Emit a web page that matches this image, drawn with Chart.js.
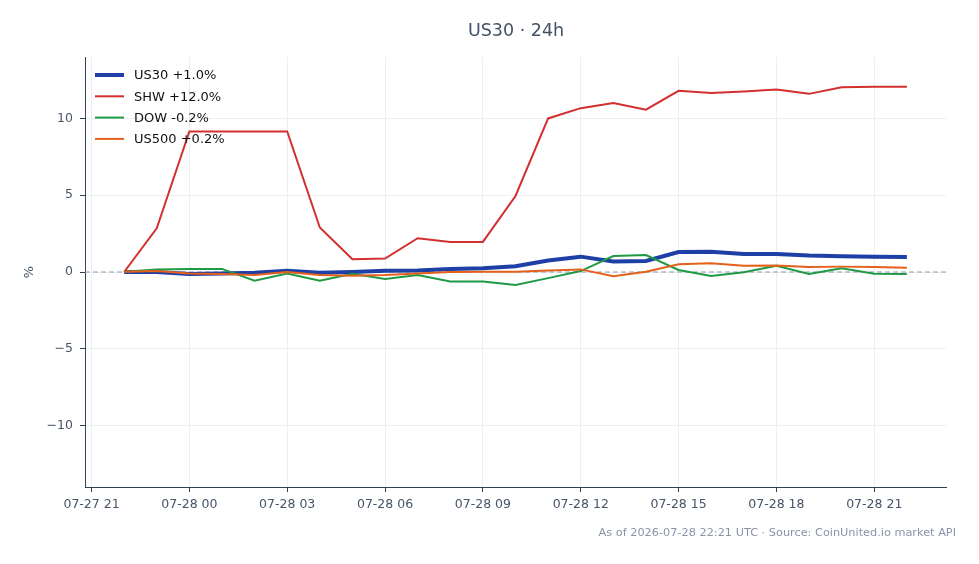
<!DOCTYPE html>
<html>
<head>
<meta charset="utf-8">
<script src="https://cdn.jsdelivr.net/npm/chart.js@4.4.1/dist/chart.umd.min.js"></script>
<style>
  html, body { margin: 0; padding: 0; background: #fff; }
  #wrap { width: 979px; height: 564px; }
</style>
</head>
<body>
<div id="wrap"><canvas id="chart" width="979" height="564"></canvas></div>
<script>
// hourly points, 07-27 22:00 .. 07-28 22:00 (x = hours since 07-27 21:00)
const hours = ['07-27 22','07-27 23','07-28 00','07-28 01','07-28 02','07-28 03','07-28 04','07-28 05','07-28 06',
  '07-28 07','07-28 08','07-28 09','07-28 10','07-28 11','07-28 12','07-28 13','07-28 14','07-28 15','07-28 16',
  '07-28 17','07-28 18','07-28 19','07-28 20','07-28 21','07-28 22'];

const us30 = [0, 0, -0.13, -0.1, -0.05, 0.08, -0.05, 0, 0.08, 0.1, 0.2, 0.25, 0.37, 0.75, 1.0, 0.68, 0.72, 1.3, 1.32, 1.17, 1.17, 1.07, 1.02, 1.0, 0.98];
const shw = [0, 2.85, 9.15, 9.15, 9.15, 9.15, 2.9, 0.83, 0.88, 2.2, 1.96, 1.96, 4.95, 10.0, 10.67, 11.0, 10.57, 11.8, 11.65, 11.75, 11.88, 11.6, 12.03, 12.06, 12.06];
const dow = [0.02, 0.17, 0.2, 0.2, -0.57, -0.1, -0.57, -0.12, -0.45, -0.2, -0.62, -0.62, -0.85, -0.4, 0.06, 1.04, 1.1, 0.13, -0.26, -0.02, 0.4, -0.13, 0.25, -0.12, -0.13];
const us500 = [0.02, 0.07, -0.1, -0.13, -0.2, 0.0, -0.2, -0.25, -0.2, -0.1, 0.0, 0.02, 0.02, 0.1, 0.17, -0.27, 0.02, 0.5, 0.57, 0.4, 0.42, 0.33, 0.35, 0.33, 0.28];

const names = ['US30 +1.0%', 'SHW +12.0%', 'DOW -0.2%', 'US500 +0.2%'];
const colors = ['#1e3fa6', '#d32f2f', '#1f9a44', '#e5601a'];
const widths = [4, 2, 2, 2];

const xTickVals = [0, 3, 6, 9, 12, 15, 18, 21, 24];
const xTickLabels = ['07-27 21','07-28 00','07-28 03','07-28 06','07-28 09','07-28 12','07-28 15','07-28 18','07-28 21'];
const yTickVals = [-10, -5, 0, 5, 10];

const font = "'DejaVu Sans', sans-serif";
const toPoints = arr => arr.map((v, i) => ({x: i + 1, y: v}));

const series = [us30, shw, dow, us500];
const datasets = series.map((s, i) => ({
  label: names[i],
  data: toPoints(s),
  borderColor: colors[i],
  backgroundColor: colors[i],
  borderWidth: widths[i],
  pointRadius: 0,
  tension: 0,
  order: 4 - i   // first series drawn underneath
}));

// zero line, title, % label, legend, footer
const extras = {
  id: 'extras',
  beforeDatasetsDraw(chart){
    const ctx = chart.ctx, a = chart.chartArea;
    const y0 = chart.scales.y.getPixelForValue(0);
    ctx.save();
    ctx.strokeStyle = '#8e9bb0';
    ctx.lineWidth = 1;
    ctx.setLineDash([5, 3]);
    ctx.beginPath();
    ctx.moveTo(a.left, y0);
    ctx.lineTo(a.right, y0);
    ctx.stroke();
    ctx.restore();
  },
  afterDraw(chart){
    const ctx = chart.ctx;
    ctx.save();
    ctx.fillStyle = '#435266';
    ctx.font = '17.5px ' + font;
    ctx.textAlign = 'center';
    ctx.textBaseline = 'middle';
    ctx.fillText('US30 · 24h', 516, 31);

    ctx.font = '13px ' + font;
    ctx.fillStyle = '#475569';
    ctx.translate(30, chart.scales.y.getPixelForValue(0));
    ctx.rotate(-Math.PI / 2);
    ctx.fillText('%', 0, 0);
    ctx.setTransform(1, 0, 0, 1, 0, 0);

    // legend
    ctx.textAlign = 'left';
    ctx.font = '13px ' + font;
    names.forEach((n, i) => {
      const y = 75 + i * 21.3;
      ctx.strokeStyle = colors[i];
      ctx.lineWidth = widths[i];
      ctx.beginPath();
      ctx.moveTo(95, y);
      ctx.lineTo(124, y);
      ctx.stroke();
      ctx.fillStyle = '#111';
      ctx.fillText(n, 134, y + 1);
    });

    ctx.textAlign = 'right';
    ctx.font = '11.3px ' + font;
    ctx.fillStyle = '#8a94a6';
    ctx.fillText('As of 2026-07-28 22:21 UTC · Source: CoinUnited.io market API', 956, 533);
    ctx.restore();
  }
};

new Chart(document.getElementById('chart'), {
  type: 'line',
  data: { datasets: datasets },
  options: {
    responsive: false,
    animation: false,
    devicePixelRatio: 1,
    layout: { padding: { top: 57, right: 33, left: 0, bottom: 0 } },
    plugins: { legend: { display: false }, tooltip: { enabled: false }, title: { display: false } },
    scales: {
      x: {
        type: 'linear',
        min: -0.2,
        max: 26.2,
        afterBuildTicks: s => { s.ticks = xTickVals.map(v => ({value: v})); },
        afterFit: s => { s.height = 77; },
        ticks: {
          autoSkip: false,
          maxRotation: 0,
          padding: 5,
          color: '#475569',
          font: { family: font, size: 12.5 },
          callback: v => xTickLabels[xTickVals.indexOf(v)]
        },
        grid: { color: '#eceef2', tickColor: '#334155', tickLength: 5 },
        border: { display: true, color: '#334155', width: 1 }
      },
      y: {
        min: -14,
        max: 14,
        afterBuildTicks: s => { s.ticks = yTickVals.map(v => ({value: v})); },
        afterFit: s => { s.width = 85; },
        ticks: {
          padding: 7,
          color: '#475569',
          font: { family: font, size: 12.5 },
          callback: v => v < 0 ? '\u2212' + Math.abs(v) : String(v)
        },
        grid: { color: '#eceef2', tickColor: '#334155', tickLength: 5 },
        border: { display: true, color: '#334155', width: 1 }
      }
    }
  },
  plugins: [extras]
});
</script>
</body>
</html>
